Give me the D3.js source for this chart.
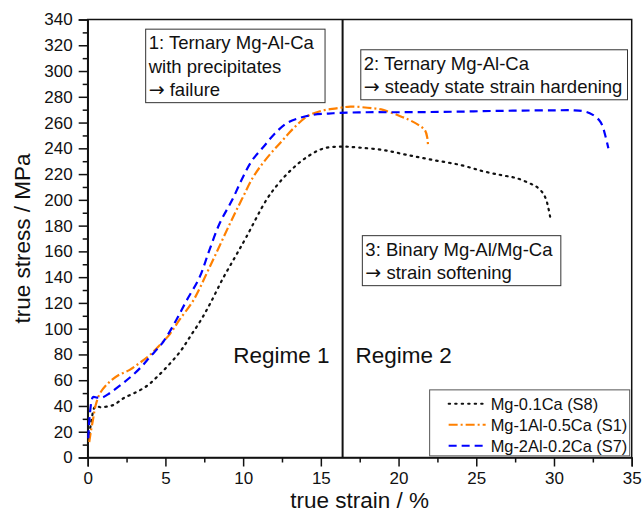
<!DOCTYPE html>
<html>
<head>
<meta charset="utf-8">
<script src="https://cdn.jsdelivr.net/npm/d3@7"></script>
<style>
  body { margin: 0; background: #fff; }
  text { font-family: Arial, "Liberation Sans", sans-serif; fill: #111; }
</style>
</head>
<body>
<div id="mainbox"></div>
<script>
// strain (%) / stress (MPa)
const s8 = [[0.05,13],[0.15,22],[0.26,30],[0.4,38],[0.55,40],[0.8,39],[1.2,39.5],[1.7,41],[2.3,46],[3.0,50],[3.8,55.5],[4.5,63],[5.3,73],[6.0,83],[6.6,94],[7.3,107],[7.9,120],[8.7,139],[9.5,156],[10.2,171],[11.5,200],[12.3,213],[13.2,224.5],[14.2,234],[15.2,240],[16.4,241.3],[17.5,240.5],[19.0,238.7],[20.5,235],[22.2,231],[24,227],[25.5,222],[26.7,219],[27.6,216.8],[28.4,213],[28.9,210],[29.3,205],[29.5,200],[29.65,193],[29.75,187]];
const s1 = [[0.1,12],[0.2,20],[0.35,30],[0.5,40],[0.8,50],[1.43,59],[2.0,64],[2.7,68],[3.3,73],[4.0,79.6],[4.76,88.7],[5.3,96],[5.9,106.8],[6.8,122],[7.66,143],[8.4,162],[9.16,181.8],[9.9,200],[10.66,218],[11.5,232],[12.37,244],[13.2,255],[14.1,264.6],[15.0,269],[16.0,271],[16.9,272.4],[18.0,271.5],[19.0,269.8],[20.0,265.5],[20.7,262],[21.3,258],[21.7,254],[21.85,248],[21.9,241]];
const s7 = [[0.04,15],[0.08,25],[0.15,35],[0.25,44],[0.35,47],[0.6,46.5],[0.9,46.4],[1.3,49],[1.65,52],[2.3,58],[2.9,64],[3.5,71],[4.0,78],[4.87,90],[5.7,106.8],[6.37,122],[7.2,140],[7.8,160],[8.5,182],[9.3,200],[10.0,218],[10.6,231],[11.3,241],[12.0,251],[12.8,259.5],[13.6,263.5],[14.5,266],[15.5,267],[16.2,267.5],[18,268],[20,268],[22,268.2],[24,268.5],[26,269],[28,269.3],[30,269.5],[31.25,269.5],[32,268.5],[32.5,266],[32.9,262],[33.1,258],[33.3,250],[33.5,240]];

const seriesNames = ['Mg-0.1Ca (S8)', 'Mg-1Al-0.5Ca (S1)', 'Mg-2Al-0.2Ca (S7)'];
const xTicks = [0, 5, 10, 15, 20, 25, 30, 35];
const yTicks = [0, 20, 40, 60, 80, 100, 120, 140, 160, 180, 200, 220, 240, 260, 280, 300, 320, 340];
const regimeBorder = 16.4;

const boxNotes = [
  {x: 3.73, y: 332.5, w: 11.54, lines: ['1: Ternary Mg-Al-Ca', 'with precipitates', '\u2192 failure']},
  {x: 17.57, y: 316.5, w: 17.16, lines: ['2: Ternary Mg-Al-Ca', '\u2192 steady state strain hardening']},
  {x: 17.67, y: 172.2, w: 12.77, lines: ['3: Binary Mg-Al/Mg-Ca', '\u2192 strain softening']}
];

const W = 643, H = 513;
const margin = {t: 19.5, r: 11.3, b: 55.5, l: 87.7};
const w = W - margin.l - margin.r,
      h = H - margin.t - margin.b;

let svgMain = d3.select('#mainbox')
  .append('svg')
  .attr('width', W)
  .attr('height', H);

let plot = svgMain.append('g')
  .attr('transform', `translate(${margin.l},${margin.t})`);

const scaleX = d3.scaleLinear().domain([0, 35]).range([0, w]);
const scaleY = d3.scaleLinear().domain([0, 340]).range([h, 0]);

// minor ticks first
plot.append('g')
  .attr('transform', `translate(0,${h})`)
  .call(d3.axisBottom(scaleX).tickValues(d3.range(2.5, 35, 5)).tickSize(5).tickFormat(''))
  .call(g => g.select('.domain').remove());
plot.append('g')
  .call(d3.axisLeft(scaleY).tickValues(d3.range(10, 340, 20)).tickSize(5).tickFormat(''))
  .call(g => g.select('.domain').remove());

const axisX = plot.append('g')
  .attr('class', 'axis axis-x')
  .attr('transform', `translate(0,${h})`)
  .call(d3.axisBottom(scaleX).tickValues(xTicks).tickSize(9).tickPadding(5));
const axisY = plot.append('g')
  .attr('class', 'axis axis-y')
  .call(d3.axisLeft(scaleY).tickValues(yTicks).tickSize(9).tickPadding(6));

plot.selectAll('.axis text').style('font-size', '17px').attr('fill', '#111');
plot.selectAll('.tick line').attr('stroke', '#111').attr('stroke-width', 1.5);
plot.selectAll('.domain').attr('stroke', '#111').attr('stroke-width', 1.5);

// frame
plot.append('rect')
  .attr('width', w).attr('height', h)
  .attr('fill', 'none').attr('stroke', '#111').attr('stroke-width', 1.5);

// regime border
plot.append('line')
  .attr('x1', scaleX(regimeBorder)).attr('x2', scaleX(regimeBorder))
  .attr('y1', 0).attr('y2', h)
  .attr('stroke', '#111').attr('stroke-width', 2);

plot.append('text').attr('x', scaleX(regimeBorder) - 13).attr('y', scaleY(73))
  .attr('text-anchor', 'end').style('font-size', '22.5px').text('Regime 1');
plot.append('text').attr('x', scaleX(regimeBorder) + 13).attr('y', scaleY(73))
  .style('font-size', '22.5px').text('Regime 2');

// annotation boxes
boxNotes.forEach(b => {
  const g = plot.append('g');
  g.append('rect')
    .attr('x', scaleX(b.x)).attr('y', scaleY(b.y))
    .attr('width', scaleX(b.w) - scaleX(0))
    .attr('height', b.lines.length * 23.5 + 3)
    .attr('fill', '#fff').attr('stroke', '#333').attr('stroke-width', 1);
  const t = g.selectAll('text').data(b.lines).enter()
    .append('text')
    .attr('x', scaleX(b.x) + 3)
    .attr('y', (d, i) => scaleY(b.y) + 20 + i * 23.5)
    .style('font-size', '18.5px');
  t.each(function(d) {
    const el = d3.select(this);
    if (d.startsWith('\u2192')) {
      el.append('tspan').style('font-family', '"DejaVu Sans"').style('font-size', '19px').text('\u2192');
      el.append('tspan').text(d.slice(1));
    } else {
      el.text(d);
    }
  });
});

const line = d3.line()
  .x(d => scaleX(d[0]))
  .y(d => scaleY(d[1]))
  .curve(d3.curveCatmullRom.alpha(0.5));

const styles = [
  {data: s8, color: '#111', dash: '1.5,5', cap: 'round'},
  {data: s1, color: '#ff8000', dash: '9,3,2,3', cap: 'butt'},
  {data: s7, color: '#0000ff', dash: '8,5', cap: 'butt'}
];

plot.selectAll('.curve')
  .data(styles)
  .enter()
  .append('path')
  .attr('class', 'curve')
  .attr('d', d => line(d.data))
  .attr('fill', 'none')
  .attr('stroke', d => d.color)
  .attr('stroke-width', 2.2)
  .attr('stroke-linecap', d => d.cap)
  .attr('stroke-dasharray', d => d.dash);

// legend
const legend = plot.append('g')
  .attr('transform', `translate(${scaleX(22.0)},${scaleY(52.5)})`);
legend.append('rect')
  .attr('width', scaleX(35) - scaleX(22.0) - 2)
  .attr('height', 66)
  .attr('fill', '#fff').attr('stroke', '#555').attr('stroke-width', 1);
const rows = legend.selectAll('.row')
  .data(styles)
  .enter()
  .append('g')
  .attr('transform', (d, i) => `translate(0,${14 + i * 21})`);
rows.append('line')
  .attr('x1', 19).attr('x2', 56).attr('y1', 0).attr('y2', 0)
  .attr('stroke', d => d.color).attr('stroke-width', 2)
  .attr('stroke-linecap', d => d.cap)
  .attr('stroke-dasharray', d => d.dash);
rows.append('text')
  .attr('x', 61).attr('y', 6)
  .style('font-size', '16.4px')
  .text((d, i) => seriesNames[i]);

// axis titles
svgMain.append('text')
  .attr('x', margin.l + w / 2).attr('y', H - 5)
  .attr('text-anchor', 'middle').style('font-size', '22.5px')
  .text('true strain / %');
svgMain.append('text')
  .attr('transform', `translate(30,${margin.t + h / 2}) rotate(-90)`)
  .attr('text-anchor', 'middle').style('font-size', '22.5px')
  .text('true stress / MPa');
</script>
</body>
</html>
